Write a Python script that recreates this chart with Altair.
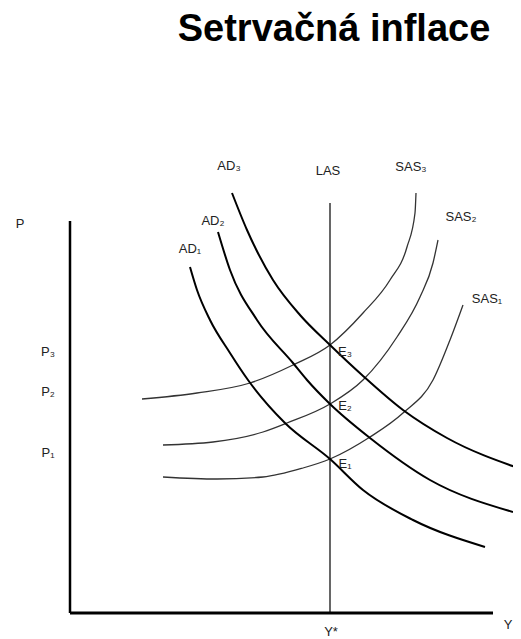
import altair as alt
import pandas as pd

TITLE = "Setrvačná inflace"

# Coordinates: Y = horizontal distance from origin, P = vertical distance
AD1_Y = [120, 127, 140, 160, 178, 215, 260, 293, 343, 415]
AD1_P = [346, 323, 293, 260, 233, 190, 154, 123, 93, 66]
AD2_Y = [148, 160, 187, 223, 237, 260, 300, 360, 443]
AD2_P = [381, 343, 293, 250, 233, 209, 175, 133, 101]
AD3_Y = [162, 177, 203, 230, 260, 292, 333, 377, 451]
AD3_P = [420, 383, 333, 298, 268, 238, 203, 175, 144]

SAS1_Y = [93, 147, 193, 233, 260, 300, 333, 363, 380, 393]
SAS1_P = [136, 134, 136, 145, 154, 176, 200, 233, 273, 308]
SAS2_Y = [93, 143, 193, 217, 260, 293, 327, 350, 363, 368]
SAS2_P = [168, 171, 181, 190, 209, 233, 276, 316, 350, 373]
SAS3_Y = [72, 127, 180, 223, 260, 293, 320, 337, 345, 346]
SAS3_P = [214, 220, 230, 248, 268, 300, 333, 366, 400, 420]

# Axes and LAS
AXIS_P = [0, 392]
XAXIS = [0, 423]
LAS_Y = 260
LAS_TOP = 410

LABELS = ["P", "P₃", "P₂", "P₁", "AD₃", "AD₂", "AD₁", "LAS", "SAS₃", "SAS₂", "SAS₁",
          "E₃", "E₂", "E₁", "Y*", "Y"]
LABEL_Y = [-50, -22, -22, -22, 159, 143, 120, 258, 341, 391, 417, 275, 275, 275, 261, 438]
LABEL_P = [389, 261, 221, 160, 447, 392, 364, 442, 446, 396, 314, 261, 207, 149, -19, -12]

rows = []
for name, ys, ps in [("AD1", AD1_Y, AD1_P), ("AD2", AD2_Y, AD2_P), ("AD3", AD3_Y, AD3_P)]:
    for i, (a, b) in enumerate(zip(ys, ps)):
        rows.append({"curve": name, "Y": a, "P": b, "i": i})
ad_df = pd.DataFrame(rows)
rows = []
for name, ys, ps in [("SAS1", SAS1_Y, SAS1_P), ("SAS2", SAS2_Y, SAS2_P), ("SAS3", SAS3_Y, SAS3_P)]:
    for i, (a, b) in enumerate(zip(ys, ps)):
        rows.append({"curve": name, "Y": a, "P": b, "i": i})
sas_df = pd.DataFrame(rows)

xs = alt.Scale(domain=[-62, 443], nice=False, zero=False)
ys_ = alt.Scale(domain=[-26, 605], nice=False, zero=False)

def X(f="Y"):
    return alt.X(f"{f}:Q", scale=xs, axis=None)

def Yc(f="P"):
    return alt.Y(f"{f}:Q", scale=ys_, axis=None)

ad = alt.Chart(ad_df).mark_line(color="black", strokeWidth=2, interpolate="monotone", clip=True).encode(
    x=X(), y=Yc(), detail="curve:N", order="i:Q")
sas = alt.Chart(sas_df).mark_line(color="#333333", strokeWidth=1.3, interpolate="monotone", clip=True).encode(
    x=X(), y=Yc(), detail="curve:N", order="i:Q")

yaxis_df = pd.DataFrame({"Y": [0], "P": [AXIS_P[0]], "P2": [AXIS_P[1]]})
yaxis = alt.Chart(yaxis_df).mark_rule(color="black", strokeWidth=2.5).encode(
    x=X(), y=Yc(), y2="P2:Q")
xaxis_df = pd.DataFrame({"Y": [XAXIS[0]], "Y2": [XAXIS[1]], "P": [0]})
xaxis = alt.Chart(xaxis_df).mark_rule(color="black", strokeWidth=3).encode(
    x=X(), x2="Y2:Q", y=Yc())
las_df = pd.DataFrame({"Y": [LAS_Y], "P": [0], "P2": [LAS_TOP]})
las = alt.Chart(las_df).mark_rule(color="black", strokeWidth=1.2).encode(
    x=X(), y=Yc(), y2="P2:Q")

lab_df = pd.DataFrame({"t": LABELS, "Y": LABEL_Y, "P": LABEL_P})
labels = alt.Chart(lab_df).mark_text(font="Liberation Sans", fontSize=13, color="#222222",
                                     align="center", baseline="middle").encode(
    x=X(), y=Yc(), text="t:N")

title = alt.Chart(pd.DataFrame({"t": [TITLE]})).mark_text(
    font="Liberation Sans", fontSize=38, fontWeight="bold", color="black",
    align="center", baseline="alphabetic").encode(
    x=alt.value(326), y=alt.value(33), text="t:N")

chart = alt.layer(sas, ad, las, yaxis, xaxis, labels, title).properties(
    width=505, height=631, padding=0,
    autosize=alt.AutoSizeParams(type="none"),
).configure_view(stroke=None)

chart.save("out.html", embed_options={"renderer": "svg", "actions": False})
